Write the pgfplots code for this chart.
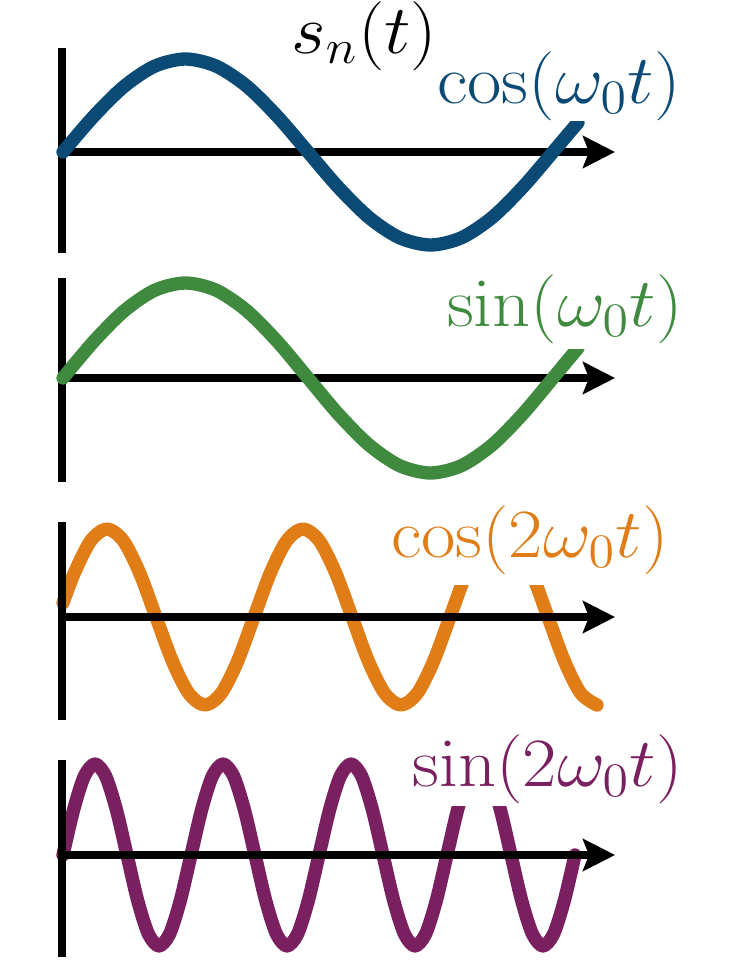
\documentclass[border=0pt]{standalone}
\usepackage{pgfplots}
\pgfplotsset{compat=1.18}
\usetikzlibrary{arrows.meta}

\definecolor{waveblue}{HTML}{0B4A75}
\definecolor{wavegreen}{HTML}{3F8A3F}
\definecolor{waveorange}{HTML}{E07D16}
\definecolor{wavepurple}{HTML}{7A1F60}

\pgfplotsset{
  axisline/.style={black, line width=2.6pt, no marks},
  axisarrow/.style={axisline, -{Stealth[length=9.6pt, width=9.6pt, inset=1.8pt]}},
  wave/.style={line width=4pt, line cap=round, line join=round, smooth, no marks},
}
\tikzset{
  wavelabel/.style={anchor=base east, fill=white, inner xsep=2pt, font=\huge},
}
\newcommand{\wide}[1]{\scalebox{1.08}[1]{#1}}

\begin{document}
\begin{tikzpicture}
\begin{axis}[
  width=218.4pt, height=290.1pt, scale only axis,
  xmin=0, xmax=728, ymin=0, ymax=967, y dir=reverse,
  hide axis, clip=false,
]
% page frame
\addplot[draw=none, no marks] coordinates {(0,0) (728,967)};

% ---- panel 1: cos(w0 t) ----
\addplot[axisline] coordinates {(62,48) (62,253)};
\addplot[axisarrow] coordinates {(62,152) (615,152)};
\addplot[wave, waveblue] coordinates {
  (63,152) (93.6,116.4) (124.3,86.2) (154.9,66.1) (185.5,59) (216.1,66.1)
  (246.8,86.2) (277.4,116.4) (308,152) (338.6,187.6) (369.3,217.8)
  (399.9,237.9) (430.5,245) (461.1,237.9) (491.8,217.8) (522.4,187.6)
  (553,152) (568,134.2) (578,122.6)
};

% ---- panel 2: sin(w0 t) ----
\addplot[axisline] coordinates {(62,278) (62,482)};
\addplot[axisarrow] coordinates {(62,378) (615,378)};
\addplot[wave, wavegreen] coordinates {
  (63,378) (93.6,341.6) (124.3,310.8) (154.9,290.2) (185.5,283) (216.1,290.2)
  (246.8,310.8) (277.4,341.6) (308,378) (338.6,414.4) (369.3,445.2)
  (399.9,465.8) (430.5,473) (461.1,465.8) (491.8,445.2) (522.4,414.4)
  (553,378) (568,359.9) (578,348)
};

% ---- panel 3: cos(2 w0 t) ----
\addplot[wave, waveorange] coordinates {
  (63,602.9) (74.33,573) (90.67,540.8) (107,529) (123.33,540.8) (139.67,573)
  (156,617) (172.33,661) (188.67,693.2) (205,705) (221.33,693.2) (237.67,661)
  (254,617) (270.33,573) (286.67,540.8) (303,529) (319.33,540.8) (335.67,573)
  (352,617) (368.33,661) (384.67,693.2) (401,705) (417.33,693.2) (433.67,661)
  (450,617) (466.33,573) (482.67,540.8) (499,529) (515.33,540.8) (531.67,573)
  (548,617) (564.33,661) (580.67,693.2) (597,705)
};
\addplot[axisline] coordinates {(62,522) (62,720)};
\addplot[axisarrow] coordinates {(62,617) (615,617)};

% ---- panel 4: sin(2 w0 t) ----
\addplot[wave, wavepurple] coordinates {
  (63,855) (73.67,809.5) (84.33,776.2) (95,764) (105.67,776.2) (116.33,809.5)
  (127,855) (137.67,900.5) (148.33,933.8) (159,946) (169.67,933.8) (180.33,900.5)
  (191,855) (201.67,809.5) (212.33,776.2) (223,764) (233.67,776.2) (244.33,809.5)
  (255,855) (265.67,900.5) (276.33,933.8) (287,946) (297.67,933.8) (308.33,900.5)
  (319,855) (329.67,809.5) (340.33,776.2) (351,764) (361.67,776.2) (372.33,809.5)
  (383,855) (393.67,900.5) (404.33,933.8) (415,946) (425.67,933.8) (436.33,900.5)
  (447,855) (457.67,809.5) (468.33,776.2) (479,764) (489.67,776.2) (500.33,809.5)
  (511,855) (521.67,900.5) (532.33,933.8) (543,946) (553.67,933.8) (564.33,900.5)
  (575,855)
};
\addplot[axisline] coordinates {(62,760) (62,957)};
\addplot[axisarrow] coordinates {(62,855) (615,855)};

% ---- labels ----
\node[anchor=base east, font=\huge, inner sep=0pt] at (axis cs:438,53) {\wide{$s_n(t)$}};
\node[wavelabel, inner ysep=0.3pt, text=waveblue]   at (axis cs:688,103) {\wide{$\cos(\omega_0 t)$}};
\node[wavelabel, inner ysep=1.8pt, text=wavegreen]  at (axis cs:690,326) {\wide{$\sin(\omega_0 t)$}};
\node[wavelabel, inner ysep=3.3pt, text=waveorange] at (axis cs:676,557) {\wide{$\cos(2\omega_0 t)$}};
\node[wavelabel, inner ysep=0.9pt, text=wavepurple] at (axis cs:690,786) {\wide{$\sin(2\omega_0 t)$}};
\end{axis}
\pgfresetboundingbox
\path[use as bounding box] (current axis.south west) rectangle (current axis.north east);
\end{tikzpicture}
\end{document}
